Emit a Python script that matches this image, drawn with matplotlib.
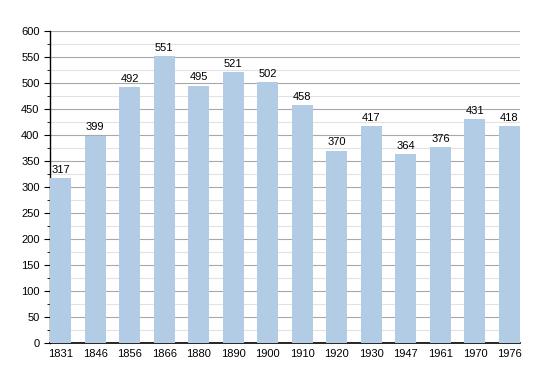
import matplotlib
matplotlib.use("Agg")
import matplotlib.pyplot as plt
from matplotlib.ticker import MultipleLocator

years = ["1831", "1846", "1856", "1866", "1880", "1890", "1900",
         "1910", "1920", "1930", "1947", "1961", "1970", "1976"]
population = [317, 399, 492, 551, 495, 521, 502, 458, 370, 417, 364, 376, 431, 418]

plt.rcParams['font.family'] = ['Liberation Sans', 'DejaVu Sans']

fig = plt.figure(figsize=(5.5, 3.73), dpi=100)
ax = fig.add_axes([50 / 550, 1 - 343 / 373, 470 / 550, 312 / 373])

x = range(len(years))
bars = ax.bar(x, population, width=0.61, color='#b3cce6', zorder=3)

for xi, v in zip(x, population):
    ax.text(xi, v + 6, str(v), ha='center', va='bottom', fontsize=8, zorder=4)

ax.set_xlim(-0.305, len(years) - 1 + 0.305)
ax.set_ylim(0, 600)
ax.set_xticks(list(x))
ax.set_xticklabels(years, fontsize=8)
ax.yaxis.set_major_locator(MultipleLocator(50))
ax.yaxis.set_minor_locator(MultipleLocator(25))
ax.tick_params(axis='y', labelsize=8, length=4, width=0.8)
ax.tick_params(axis='y', which='minor', length=2, width=0.6)
ax.tick_params(axis='x', length=0, pad=4)

ax.grid(axis='y', which='major', color='#a8a8a8', linewidth=0.8, zorder=0)
ax.grid(axis='y', which='minor', color='#e2e2e2', linewidth=0.8, zorder=0)

for side in ['top', 'right']:
    ax.spines[side].set_visible(False)
ax.spines['left'].set_linewidth(1)
ax.spines['bottom'].set_linewidth(1.2)

fig.savefig("out.png", dpi=100)
